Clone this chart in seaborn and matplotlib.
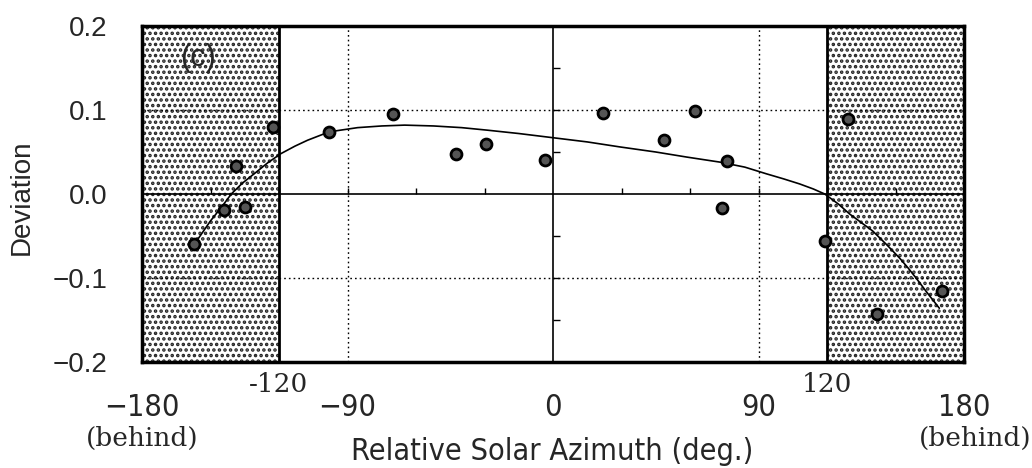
import matplotlib
matplotlib.use("Agg")
import matplotlib.pyplot as plt
import matplotlib.transforms as mtransforms
import pandas as pd
import seaborn as sns

# Relative solar azimuth (deg.) and deviation of each observation
azimuth = [-157.1, -144.0, -134.9, -138.8, -122.8, -98.2, -70.2, -42.4, -29.3,
           -3.4, 21.7, 48.5, 62.3, 76.3, 74.1, 119.3, 129.4, 142.0, 170.2]
deviation = [-0.060, -0.019, -0.016, 0.033, 0.080, 0.074, 0.095, 0.048, 0.059,
             0.040, 0.097, 0.064, 0.099, 0.039, -0.017, -0.056, 0.089, -0.143, -0.115]

# Fitted trend curve
curve_azimuth = [-157.1, -150.0, -145.0, -140.9, -136.0, -130.9, -125.0, -119.2,
                 -113.0, -107.5, -98.0, -85.6, -75.0, -65.0, -52.3, -40.0, -28.8,
                 -15.0, 0.0, 15.0, 29.4, 45.0, 58.5, 73.0, 84.0, 93.5, 101.0,
                 108.0, 114.0, 119.0, 125.0, 130.0, 135.0, 140.0, 146.0, 151.7,
                 155.5, 159.0, 164.0, 169.2]
curve_deviation = [-0.060, -0.032, -0.015, 0.000, 0.013, 0.024, 0.037, 0.048,
                   0.057, 0.064, 0.074, 0.079, 0.081, 0.082, 0.081, 0.079, 0.076,
                   0.072, 0.067, 0.062, 0.056, 0.050, 0.044, 0.038, 0.032, 0.024,
                   0.018, 0.012, 0.006, 0.000, -0.012, -0.024, -0.034, -0.044,
                   -0.060, -0.076, -0.088, -0.100, -0.118, -0.136]

xtick_values = [-180, -90, 0, 90, 180]
xtick_labels = ["\u2212180", "\u221290", "0", "90", "180"]
ytick_values = [-0.2, -0.1, 0.0, 0.1, 0.2]
ytick_labels = ["\u22120.2", "\u22120.1", "0.0", "0.1", "0.2"]
behind_zones = [(-180, -120), (120, 180)]
zone_labels = ["-120", "120"]
minor_x = [-150, -120, -90, -60, -30, 30, 60, 90, 120, 150]
minor_y = [-0.15, -0.1, -0.05, 0.05, 0.1, 0.15]

df = pd.DataFrame({"azimuth": azimuth, "deviation": deviation})
curve = pd.DataFrame({"azimuth": curve_azimuth, "deviation": curve_deviation})

sns.set_style("white")
plt.rcParams["font.family"] = ["Liberation Sans", "DejaVu Sans"]
plt.rcParams["hatch.linewidth"] = 1.7

W, H = 1032, 468
fig = plt.figure(figsize=(W / 100, H / 100), dpi=100)
ax = fig.add_axes([142 / W, 1 - 362 / H, (964 - 142) / W, (362 - 26) / H])
ax.set_xlim(-180, 180)
ax.set_ylim(-0.2, 0.2)

# stippled "behind" sectors
for x0, x1 in behind_zones:
    ax.axvspan(x0, x1, facecolor="white", edgecolor="#222222", hatch="...",
               linewidth=0, zorder=0)
    for xb in (x0, x1):
        if abs(xb) != 180:
            ax.axvline(xb, color="black", lw=2.0, zorder=2)

# dotted guide lines
for xv in (-90, 90):
    ax.axvline(xv, color="black", lw=1.0, ls=(0, (1.2, 2.2)), zorder=1)
for yv in (-0.1, 0.1):
    ax.axhline(yv, color="black", lw=1.0, ls=(0, (1.2, 2.2)), zorder=1)

# centre axes with small ticks
ax.axhline(0, color="black", lw=1.2, zorder=2)
ax.axvline(0, color="black", lw=1.2, zorder=2)
ax.plot(minor_x, [0] * len(minor_x), ls="none", marker=2, ms=4, mew=1.0,
        color="black", zorder=2)
ax.plot([0] * len(minor_y), minor_y, ls="none", marker=1, ms=5, mew=1.0,
        color="black", zorder=2)

# trend curve and observations
sns.lineplot(data=curve, x="azimuth", y="deviation", ax=ax, color="black",
             lw=1.2, sort=False, estimator=None, zorder=3)
sns.scatterplot(data=df, x="azimuth", y="deviation", ax=ax, s=62,
                color="#555555", edgecolor="black", linewidth=2.0, zorder=4)

ax.set_xlabel("")
ax.set_ylabel("")

for s in ax.spines.values():
    s.set_linewidth(2.5)
    s.set_color("black")
    s.set_zorder(5)

ax.set_xticks(xtick_values)
ax.set_xticklabels(xtick_labels, family=["Liberation Sans Narrow", "DejaVu Sans"],
                   fontstretch="condensed", fontsize=22)
ax.set_yticks(ytick_values)
ax.set_yticklabels(ytick_labels, fontsize=20)
ax.tick_params(axis="x", length=0, pad=22)
ax.tick_params(axis="y", length=0, pad=25)

trans = mtransforms.blended_transform_factory(ax.transData, fig.transFigure)
for (x0, x1), lab in zip(behind_zones, zone_labels):
    xb = x1 if x0 == -180 else x0
    ax.text(xb, 1 - 385 / H, lab, transform=trans, ha="center", va="center",
            family="DejaVu Serif", fontsize=19)
for xb in (-180, 180):
    ax.text(xb + (5 if xb > 0 else 0), 1 - 438 / H, "(behind)", transform=trans,
            ha="center", va="center", family="DejaVu Serif", fontsize=19)

fig.text(552 / W, 1 - 451 / H, "Relative Solar Azimuth (deg.)",
         ha="center", va="center", fontsize=22,
         family=["Liberation Sans Narrow", "DejaVu Sans"], fontstretch="condensed")
fig.text(22 / W, 1 - 197 / H, "Deviation", rotation=90, ha="center",
         va="center", fontsize=20)
ax.text((198 - 142) / (964 - 142), (362 - 58) / (362 - 26), "(c)",
        transform=ax.transAxes, ha="center", va="center",
        family=["Liberation Sans", "DejaVu Sans"], fontsize=22, zorder=6)

fig.savefig("out.png", dpi=100)
